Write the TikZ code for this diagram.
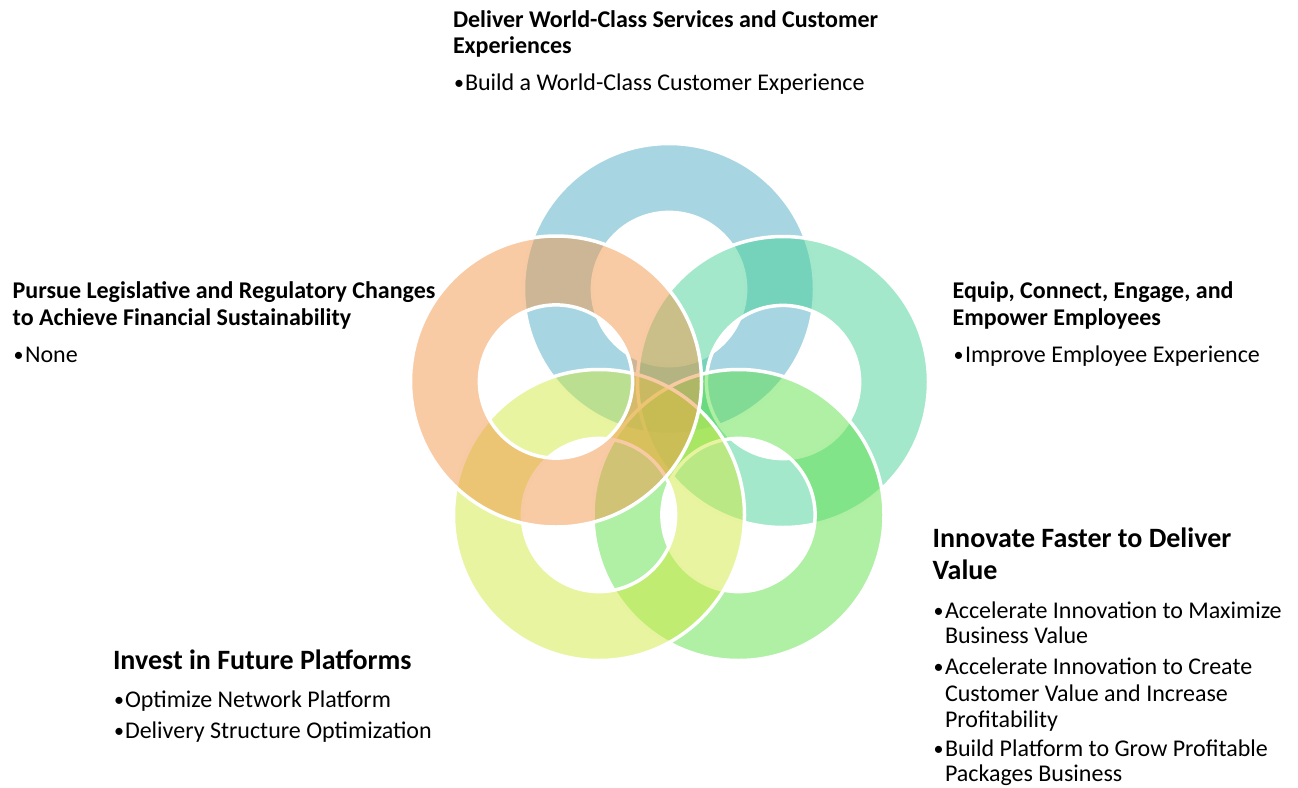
\documentclass[tikz,border=0pt]{standalone}
\usepackage{fontspec}
\setmainfont{Carlito}
\definecolor{ringblue}{RGB}{79,173,197}
\definecolor{ringorange}{RGB}{241,151,73}
\definecolor{ringteal}{RGB}{71,209,149}
\definecolor{ringlgreen}{RGB}{95,225,73}
\definecolor{ringyellow}{RGB}{209,233,65}
\begin{document}
\begin{tikzpicture}[x=1pt,y=-1pt,
  ring/.style={fill=#1, fill opacity=0.5, draw=white, draw opacity=1, line width=3.5pt, even odd rule},
  body/.style={anchor=base west, inner sep=0pt, outer sep=0pt, font=\fontsize{24}{26}\selectfont},
  dot/.style={anchor=base west, inner sep=0pt, outer sep=0pt, xshift=1pt, yshift=1pt, font=\fontsize{20}{22}\selectfont},
  head/.style={anchor=base west, inner sep=0pt, outer sep=0pt, font=\fontsize{24}{26}\selectfont\bfseries},
  big/.style={anchor=base west, inner sep=0pt, outer sep=0pt, font=\fontsize{28}{32}\selectfont\bfseries}]
\useasboundingbox (0,0) rectangle (1298,787);
% rings (drawn in stacking order)
\path[ring=ringblue]   (669,289)   circle[radius=145.5pt] (669,289)   circle[radius=76.6pt];
\path[ring=ringteal]   (783,382)   circle[radius=145.5pt] (783,382)   circle[radius=76.6pt];
\path[ring=ringlgreen] (738.5,515) circle[radius=145.5pt] (738.5,515) circle[radius=76.6pt];
\path[ring=ringyellow] (599,515)   circle[radius=145.5pt] (599,515)   circle[radius=76.6pt];
\path[ring=ringorange] (556,381.5) circle[radius=145.5pt] (556,381.5) circle[radius=76.6pt];
% top block
\node[head] (t1) at (453,27.3) {Deliver World-Class Services and Customer};
\node[head] (t2) at (453,53.3) {Experiences};
\node[dot]  (tb1) at (453,90.5) {•};
\node[body] (tt1) at (465,90.5) {Build a World-Class Customer Experience};
% left block
\node[head] (l1) at (12.7,298.3) {Pursue Legislative and Regulatory Changes};
\node[head] (l2) at (12.7,325) {to Achieve Financial Sustainability};
\node[dot]  (lb1) at (12.7,362.5) {•};
\node[body] (lt1) at (25,362.5) {None};
% right block
\node[head] (r1) at (952.7,298.3) {Equip, Connect, Engage, and};
\node[head] (r2) at (952.7,325) {Empower Employees};
\node[dot]  (rb1) at (952.7,362.5) {•};
\node[body] (rt1) at (965,362.5) {Improve Employee Experience};
% bottom left block
\node[big]  (b1) at (113,669.5) {Invest in Future Platforms};
\node[dot]  (bb1) at (113,707) {•};
\node[body] (bt1) at (125,707) {Optimize Network Platform};
\node[dot]  (bb2) at (113,738) {•};
\node[body] (bt2) at (125,738) {Delivery Structure Optimization};
% bottom right block
\node[big]  (i1) at (932.7,547) {Innovate Faster to Deliver};
\node[big]  (i2) at (932.7,579) {Value};
\node[dot]  (ib1) at (932.7,618.5) {•};
\node[body] (it1) at (945,618.5) {Accelerate Innovation to Maximize};
\node[body] (it1b) at (945,643.5) {Business Value};
\node[dot]  (ib2) at (932.7,674) {•};
\node[body] (it2) at (945,674) {Accelerate Innovation to Create};
\node[body] (it2b) at (945,701) {Customer Value and Increase};
\node[body] (it2c) at (945,727.7) {Profitability};
\node[dot]  (ib3) at (932.7,756.5) {•};
\node[body] (it3) at (945,756.5) {Build Platform to Grow Profitable};
\node[body] (it3b) at (945,781) {Packages Business};
\end{tikzpicture}
\end{document}
